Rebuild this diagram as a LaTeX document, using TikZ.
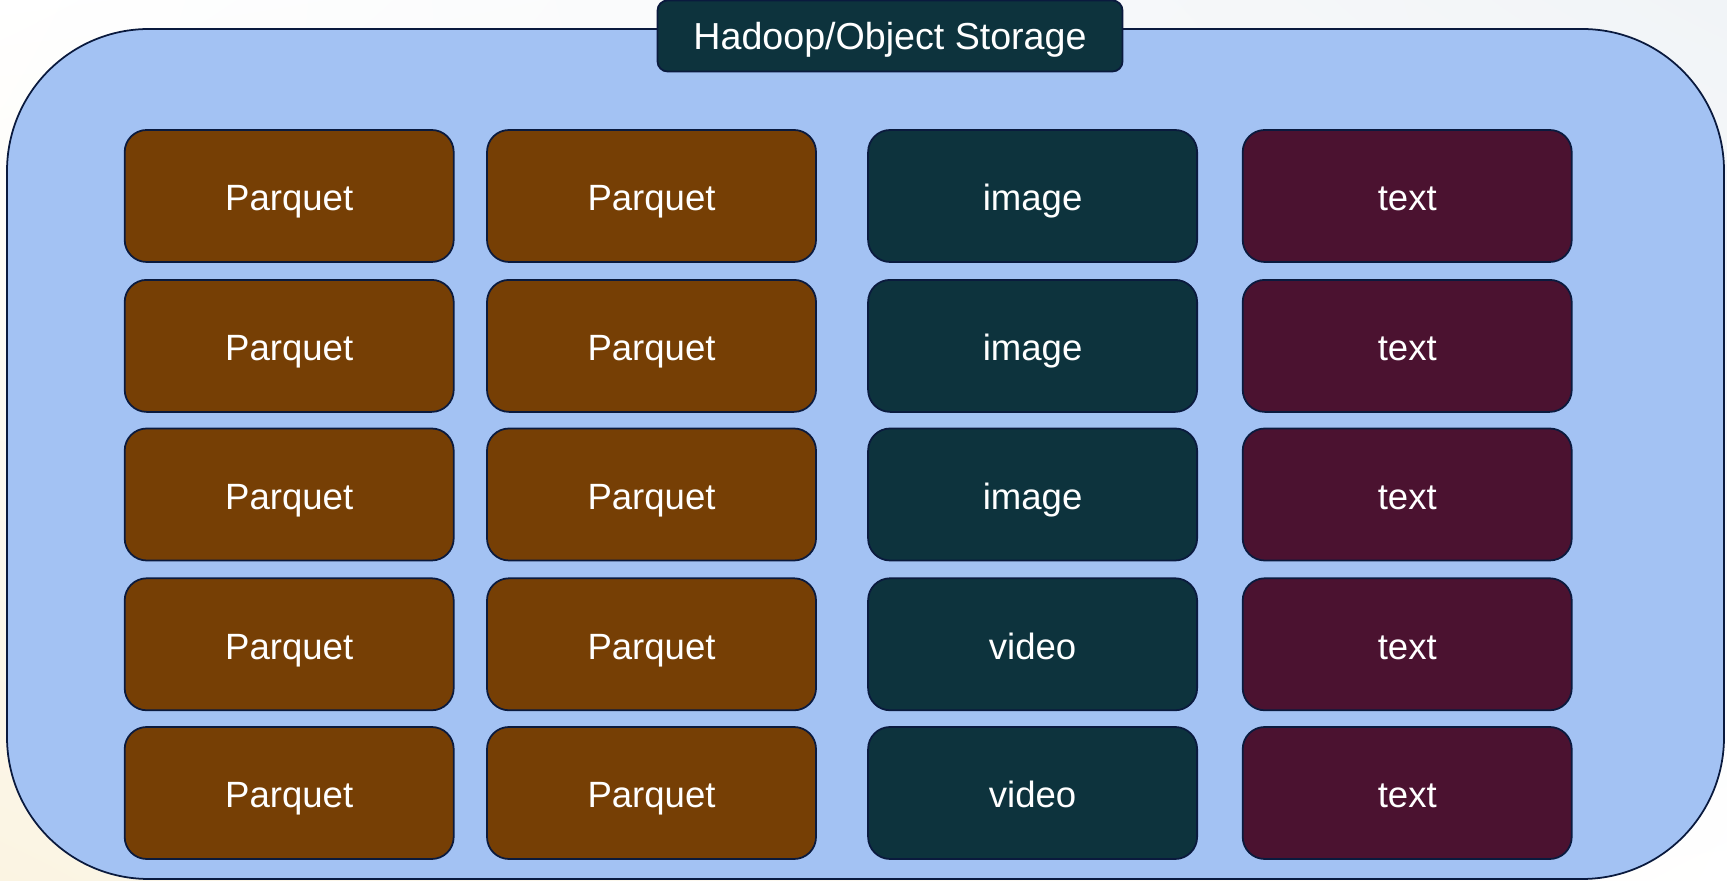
\documentclass[tikz,border=0pt]{standalone}
\usepackage{fontspec}
\setmainfont{Liberation Sans}
\usepackage{xcolor}
\usepackage{tikz}
\usetikzlibrary{backgrounds,shapes,shadings}

\definecolor{poolblue}{HTML}{A3C2F3}
\definecolor{edgenavy}{HTML}{0A1A3E}
\definecolor{parqbrown}{HTML}{763F05}
\definecolor{mediateal}{HTML}{0D333D}
\definecolor{textplum}{HTML}{4B1230}
\definecolor{paper}{HTML}{FBF4E2}
\definecolor{mist}{HTML}{F1F4F7}

\tikzset{
  filebox/.style={draw=edgenavy, line width=0.5pt, rounded corners=0.22cm,
    minimum width=3.29cm, minimum height=1.32cm, inner sep=0pt,
    text height=1.6ex, text depth=0pt,
    text=white, font=\fontsize{10.4}{12}\selectfont},
  parq/.style={filebox, fill=parqbrown},
  media/.style={filebox, fill=mediateal},
  plain/.style={filebox, fill=textplum}
}

\begin{document}
\begin{tikzpicture}
  % page and soft background
  \useasboundingbox (0,0) rectangle (17.27,8.81);
  \shade[shading=bilinear interpolation, lower left=paper, upper left=white,
    upper right=mist, lower right=white]
    (0,0) rectangle (17.27,8.81);
  \draw [draw=edgenavy, line width=0.5pt, fill=poolblue, rounded corners=1.42cm]
    (0.07,0.02) rectangle (17.24,8.52);
  \node [draw=edgenavy, line width=0.5pt, fill=mediateal, rounded corners=0.1cm,
    minimum width=4.65cm, minimum height=0.71cm, inner sep=0pt, text=white,
    text height=1.5ex, text depth=0pt,
    font=\fontsize{10.7}{12}\selectfont] (store) at (8.90,8.45) {Hadoop/Object Storage};

  % first column
  \node [parq] (pa1) at (2.892, 6.850) {Parquet};
  \node [parq] (pa2) at (2.892, 5.351) {Parquet};
  \node [parq] (pa3) at (2.892, 3.865) {Parquet};
  \node [parq] (pa4) at (2.892, 2.367) {Parquet};
  \node [parq] (pa5) at (2.892, 0.880) {Parquet};
  % second column
  \node [parq] (pb1) at (6.515, 6.850) {Parquet};
  \node [parq] (pb2) at (6.515, 5.351) {Parquet};
  \node [parq] (pb3) at (6.515, 3.865) {Parquet};
  \node [parq] (pb4) at (6.515, 2.367) {Parquet};
  \node [parq] (pb5) at (6.515, 0.880) {Parquet};
  % images and videos
  \node [media] (img1) at (10.326, 6.850) {image};
  \node [media] (img2) at (10.326, 5.351) {image};
  \node [media] (img3) at (10.326, 3.865) {image};
  \node [media] (vid1) at (10.326, 2.367) {video};
  \node [media] (vid2) at (10.326, 0.880) {video};
  % text files
  \node [plain] (txt1) at (14.072, 6.850) {text};
  \node [plain] (txt2) at (14.072, 5.351) {text};
  \node [plain] (txt3) at (14.072, 3.865) {text};
  \node [plain] (txt4) at (14.072, 2.367) {text};
  \node [plain] (txt5) at (14.072, 0.880) {text};
\end{tikzpicture}
\end{document}
